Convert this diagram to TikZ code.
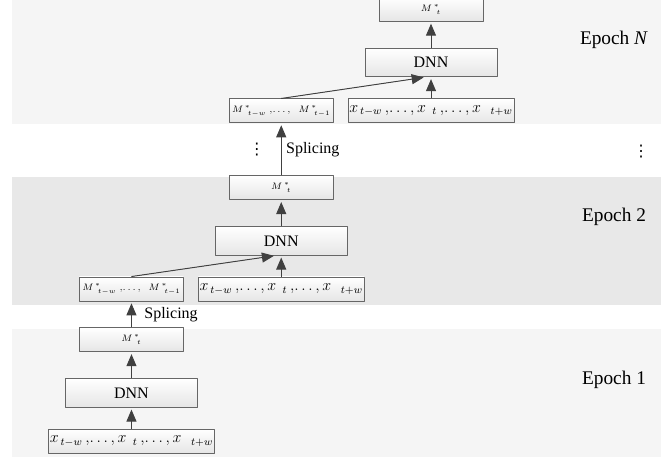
\documentclass[tikz,border=0pt]{standalone}
\usepackage{fontspec}
\setmainfont{Liberation Serif}
\newfontfamily\dotsfont{DejaVu Sans}
\usetikzlibrary{arrows.meta,positioning}

\newcommand{\prevout}{$M^{\,*}_{\;\;t-w}\;,\!\ldots,\;\;M^{\,*}_{\;\;t-1}$}
\newcommand{\frames}{$x_{\,t-w}\,,\!\ldots,x_{\;\;t}\,,\!\ldots,x_{\;\;\;t+w}$}
\newcommand{\curout}{$M^{\,*}_{\;\;t}$}

\begin{document}
\begin{tikzpicture}[
    >={Triangle[length=9pt,width=7.5pt]},
    font=\fontsize{12}{14}\selectfont,
    line join=round,
    box/.style={
        draw=black!60,
        line width=0.6pt,
        rectangle,
        top color=white,
        bottom color=black!10,
        inner sep=1pt
    },
    mbox/.style={box, minimum width=78pt, minimum height=18pt, font=\scriptsize},
    xbox/.style={box, minimum width=119pt, minimum height=18pt},
    dnn/.style={box, minimum width=99pt, minimum height=21.5pt},
    signal/.style={->, draw=black!75, fill=black!75, line width=0.7pt, shorten >=1.5pt},
    vdots/.style={font=\dotsfont\fontsize{12}{14}\selectfont, inner sep=1pt},
    epoch/.style={font=\fontsize{14.5}{17}\selectfont}
]

% =========================
% Bands
% =========================
\useasboundingbox (0,0) rectangle (500.25pt,-342.75pt);
\fill[black!4] (9pt,0) rectangle (495.75pt,-93pt);
\fill[black!9] (9pt,-132.75pt) rectangle (495.75pt,-228.75pt);
\fill[black!4] (9pt,-246.75pt) rectangle (495.75pt,-342.75pt);

% =========================
% Epoch 1
% =========================
\node[xbox] (in1) at (98.6pt,-330.75pt) {\frames};
\node[dnn, above=15.75pt of in1] (dnn1) {DNN};
\node[mbox, above=19.5pt of dnn1] (out1) {\curout};

% =========================
% Epoch 2
% =========================
\node[mbox, above=19.5pt of out1] (prev2) {\prevout};
\node[xbox, right=10.5pt of prev2] (in2) {\frames};
\node[dnn, above=15.75pt of in2] (dnn2) {DNN};
\node[mbox, above=19.5pt of dnn2] (out2) {\curout};

% =========================
% Epoch N
% =========================
\node[mbox, above=39pt of out2] (prevN) {\prevout};
\node[xbox, right=10.5pt of prevN] (inN) {\frames};
\node[dnn, above=16pt of inN] (dnnN) {DNN};
\node[mbox, above=19.5pt of dnnN] (outN) {\curout};

% =========================
% Connectors
% =========================
\draw[signal] (in1) -- (dnn1);
\draw[signal] (dnn1) -- (out1);
\draw[signal] (out1) -- node[right=6pt] {Splicing} (prev2);

\draw[signal] (prev2.north) -- ([xshift=-4pt]dnn2.south);
\draw[signal] (in2) -- (dnn2);
\draw[signal] (dnn2) -- (out2);
\draw[signal] (out2) -- node[right] {Splicing} node[vdots, left=11pt] (dotsL) {⋮} (prevN);

\draw[signal] (prevN.north) -- ([xshift=-4pt]dnnN.south);
\draw[signal] (inN) -- (dnnN);
\draw[signal] (dnnN) -- (outN);

% =========================
% Labels
% =========================
\node[vdots] (dotsR) at (480.75pt,-113.5pt) {⋮};
\node[epoch] (epochN) at (460.5pt,-30pt) {Epoch \textit{N}};
\node[epoch] (epoch2) at (460.5pt,-162.75pt) {Epoch 2};
\node[epoch] (epoch1) at (460.5pt,-285pt) {Epoch 1};

\end{tikzpicture}
\end{document}
